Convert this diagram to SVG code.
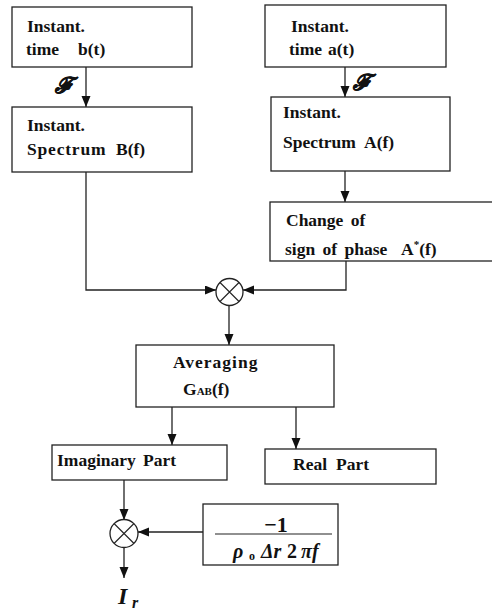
<svg xmlns="http://www.w3.org/2000/svg" width="492" height="611" viewBox="0 0 492 611">
<style>
.box{fill:#fff;stroke:#222;stroke-width:1.3}
.t{font-family:'Liberation Serif','DejaVu Serif',serif;font-size:17.5px;font-weight:bold;fill:#111}
.c{fill:none;stroke:#222;stroke-width:1.3}
.m{fill:#fff;stroke:#222;stroke-width:1.3}
.x{stroke:#222;stroke-width:1.1}
.math{font-family:'Liberation Serif','DejaVu Serif',serif;font-weight:bold;fill:#111}
.scr{font-family:'DejaVu Serif',serif;font-size:22px;font-weight:bold;font-style:italic;fill:#111;stroke:#111;stroke-width:0.7}
</style>
<defs>
<marker id="ah" markerUnits="userSpaceOnUse" markerWidth="12" markerHeight="10" refX="11" refY="4.5" orient="auto">
<path d="M0,0 L11,4.5 L0,9 z" fill="#111"/>
</marker>
</defs>
<g id="connectors">
<path class="c" d="M86,67 V107" marker-end="url(#ah)"/>
<path class="c" d="M345,67 V97" marker-end="url(#ah)"/>
<path class="c" d="M345,171 V202" marker-end="url(#ah)"/>
<path class="c" d="M86,172 V290 H216" marker-end="url(#ah)"/>
<path class="c" d="M346,261 V290 H243" marker-end="url(#ah)"/>
<path class="c" d="M229,305 V345" marker-end="url(#ah)"/>
<path class="c" d="M172,407 V445" marker-end="url(#ah)"/>
<path class="c" d="M296,407 V449" marker-end="url(#ah)"/>
<path class="c" d="M124,480 V520" marker-end="url(#ah)"/>
<path class="c" d="M203,532 H138" marker-end="url(#ah)"/>
<path class="c" d="M124,547 V578" marker-end="url(#ah)"/>
<text class="scr" x="55" y="93">ℱ</text>
<text class="scr" x="353" y="90">ℱ</text>
</g>
<g id="time_b">
<rect class="box" x="12" y="7" width="180" height="60"/>
<text class="t" x="27" y="32">Instant.</text>
<text class="t" x="26" y="55">time</text>
<text class="t" x="78" y="55">b(t)</text>
</g>
<g id="spectrum_b">
<rect class="box" x="12" y="107" width="180" height="65"/>
<text class="t" x="27" y="131">Instant.</text>
<text class="t" x="27" y="155" letter-spacing="0.8">Spectrum</text>
<text class="t" x="116" y="155">B(f)</text>
</g>
<g id="time_a">
<rect class="box" x="265" y="5" width="181" height="62"/>
<text class="t" x="291" y="32">Instant.</text>
<text class="t" x="289" y="55">time</text>
<text class="t" x="328" y="55">a(t)</text>
</g>
<g id="spectrum_a">
<rect class="box" x="271" y="97" width="179" height="74"/>
<text class="t" x="283" y="118">Instant.</text>
<text class="t" x="283" y="148">Spectrum</text>
<text class="t" x="364" y="148">A(f)</text>
</g>
<g id="change_sign">
<rect class="box" x="270" y="202" width="240" height="59"/>
<text class="t" x="286" y="226" word-spacing="3">Change of</text>
<text class="t" x="285" y="255" word-spacing="3">sign of phase</text>
<text class="t" x="401" y="255">A<tspan font-size="11" dy="-7">*</tspan><tspan dy="7">(f)</tspan></text>
</g>
<g id="mult1">
<circle class="m" cx="229.5" cy="292" r="13.5"/>
<path class="x" d="M220,282.5 L239,301.5 M239,282.5 L220,301.5"/>
</g>
<g id="averaging">
<rect class="box" x="136" y="345" width="198" height="62"/>
<text class="t" x="173" y="368" letter-spacing="1">Averaging</text>
<text class="t" x="183" y="395">G<tspan font-size="11">AB</tspan>(f)</text>
</g>
<g id="imaginary">
<rect class="box" x="52" y="445" width="175" height="35"/>
<text class="t" x="57" y="466">Imaginary</text>
<text class="t" x="143" y="466">Part</text>
</g>
<g id="real">
<rect class="box" x="265" y="449" width="171" height="35"/>
<text class="t" x="293" y="470">Real</text>
<text class="t" x="336" y="470">Part</text>
</g>
<g id="mult2">
<circle class="m" cx="124" cy="533.5" r="14"/>
<path class="x" d="M114,523.5 L134,543.5 M134,523.5 L114,543.5"/>
</g>
<g id="factor">
<rect class="box" x="203" y="504" width="135" height="61"/>
<text class="math" x="276" y="532" font-size="22" text-anchor="middle">−1</text>
<line class="x" x1="215" y1="534" x2="332" y2="534" stroke-width="1.5"/>
<text class="math" y="558" font-size="20" font-style="italic"><tspan x="233">ρ</tspan><tspan x="249" font-size="12" font-style="normal" dy="2">o</tspan><tspan x="261" dy="-2">Δr</tspan><tspan x="287" font-style="normal">2</tspan><tspan x="301">πf</tspan></text>
</g>
<g id="output">
<text class="math" x="118" y="604" font-size="24" font-style="italic">I</text>
<text class="math" x="132" y="608" font-size="16" font-style="italic">r</text>
</g>
</svg>
